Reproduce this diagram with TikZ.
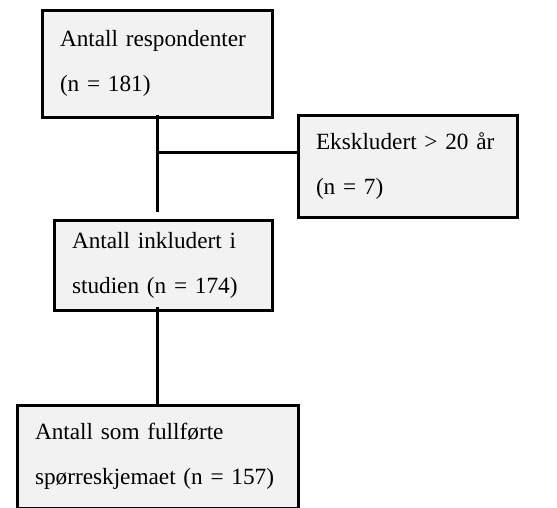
\documentclass[tikz,border=0pt]{standalone}
\usepackage{fontspec}
\setmainfont{Liberation Serif}
\usepackage{tikz}
\definecolor{boxgray}{rgb}{0.949,0.949,0.949}

\begin{document}
\begin{tikzpicture}[x=1pt, y=-1pt,
  box/.style={rectangle, draw, line width=3pt, fill=boxgray, align=left,
    inner xsep=18pt, inner ysep=0pt, font=\fontsize{23.25}{45}\selectfont},
  link/.style={line width=3pt}]

  \useasboundingbox (0,0) rectangle (557,507);

  % Boxes of the flow chart, centres in pixels
  \node[box, text width=194pt, minimum height=107pt] (resp) at (157,63.5)
    {Antall respondenter\\(n = 181)};
  \node[box, text width=183pt, minimum height=102pt] (excl) at (407.5,166)
    {Ekskludert > 20 år\\(n = 7)};
  \node[box, text width=182pt, minimum height=90pt] (incl) at (163,265)
    {Antall inkludert i\\studien (n = 174)};
  \node[box, text width=245pt, minimum height=103pt] (done) at (157.5,456.5)
    {Antall som fullførte\\spørreskjemaet (n = 157)};

  % Split point on the main line
  \coordinate (split) at (158,152);

  % Connectors
  \draw[link] ([yshift=4pt]resp.south) -- ([yshift=7pt]resp.south |- incl.north);
  \draw[link] (split) -- (split -| excl.west);
  \draw[link] ([yshift=5pt]done.north |- incl.south) -- (done.north);

\end{tikzpicture}
\end{document}
